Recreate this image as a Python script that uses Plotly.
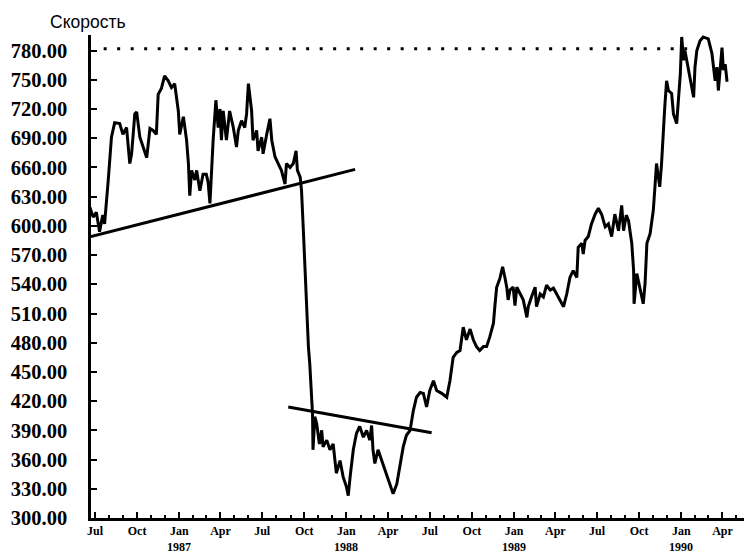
import plotly.graph_objects as go

# Index readings (date, level)
dates = [
    "1986-06-20", "1986-06-27", "1986-07-04", "1986-07-11", "1986-07-18", "1986-07-22",
    "1986-07-30", "1986-08-06", "1986-08-13", "1986-08-24", "1986-08-31", "1986-09-08",
    "1986-09-15", "1986-09-19", "1986-09-26", "1986-09-30", "1986-10-07", "1986-10-14",
    "1986-10-22", "1986-10-29", "1986-11-05", "1986-11-12", "1986-11-16", "1986-11-23",
    "1986-11-30", "1986-12-08", "1986-12-15", "1986-12-22", "1986-12-30", "1987-01-02",
    "1987-01-10", "1987-01-17", "1987-01-21", "1987-01-24", "1987-01-28", "1987-02-04",
    "1987-02-08", "1987-02-15", "1987-02-22", "1987-03-01", "1987-03-05", "1987-03-09",
    "1987-03-12", "1987-03-16", "1987-03-22", "1987-03-27", "1987-03-31", "1987-04-03",
    "1987-04-07", "1987-04-14", "1987-04-21", "1987-04-29", "1987-05-06", "1987-05-10",
    "1987-05-17", "1987-05-24", "1987-05-28", "1987-06-01", "1987-06-08", "1987-06-11",
    "1987-06-19", "1987-06-22", "1987-06-30", "1987-07-03", "1987-07-11", "1987-07-18",
    "1987-07-22", "1987-07-29", "1987-08-05", "1987-08-12", "1987-08-20", "1987-08-23",
    "1987-08-31", "1987-09-07", "1987-09-13", "1987-09-16", "1987-09-22", "1987-09-25",
    "1987-09-29", "1987-10-02", "1987-10-06", "1987-10-10", "1987-10-13", "1987-10-17",
    "1987-10-19", "1987-10-20", "1987-10-24", "1987-10-28", "1987-11-03", "1987-11-08",
    "1987-11-11", "1987-11-19", "1987-11-26", "1987-12-03", "1987-12-10", "1987-12-18",
    "1987-12-25", "1988-01-01", "1988-01-05", "1988-01-09", "1988-01-16", "1988-01-23",
    "1988-01-30", "1988-02-07", "1988-02-14", "1988-02-21", "1988-02-25", "1988-02-28",
    "1988-03-03", "1988-03-10", "1988-03-18", "1988-03-25", "1988-04-01", "1988-04-09",
    "1988-04-12", "1988-04-20", "1988-04-27", "1988-05-04", "1988-05-11", "1988-05-19",
    "1988-05-26", "1988-06-02", "1988-06-10", "1988-06-17", "1988-06-24", "1988-07-01",
    "1988-07-09", "1988-07-16", "1988-07-27", "1988-08-07", "1988-08-14", "1988-08-21",
    "1988-08-29", "1988-09-05", "1988-09-12", "1988-09-19", "1988-09-27", "1988-10-04",
    "1988-10-11", "1988-10-18", "1988-10-26", "1988-11-02", "1988-11-09", "1988-11-17",
    "1988-11-20", "1988-11-24", "1988-12-01", "1988-12-07", "1988-12-12", "1988-12-16",
    "1988-12-19", "1988-12-23", "1988-12-30", "1989-01-03", "1989-01-07", "1989-01-14",
    "1989-01-21", "1989-01-29", "1989-02-01", "1989-02-08", "1989-02-16", "1989-02-19",
    "1989-02-27", "1989-03-06", "1989-03-13", "1989-03-21", "1989-03-28", "1989-04-04",
    "1989-04-11", "1989-04-19", "1989-04-26", "1989-05-03", "1989-05-10", "1989-05-18",
    "1989-05-21", "1989-05-29", "1989-06-01", "1989-06-05", "1989-06-12", "1989-06-19",
    "1989-06-27", "1989-07-04", "1989-07-11", "1989-07-19", "1989-07-26", "1989-08-02",
    "1989-08-09", "1989-08-17", "1989-08-24", "1989-08-28", "1989-09-03", "1989-09-08",
    "1989-09-11", "1989-09-15", "1989-09-19", "1989-09-20", "1989-09-26", "1989-10-03",
    "1989-10-10", "1989-10-14", "1989-10-18", "1989-10-25", "1989-11-01", "1989-11-05",
    "1989-11-08", "1989-11-12", "1989-11-15", "1989-11-19", "1989-11-23", "1989-11-26",
    "1989-11-30", "1989-12-04", "1989-12-11", "1989-12-15", "1989-12-22", "1989-12-30",
    "1990-01-02", "1990-01-06", "1990-01-09", "1990-01-17", "1990-01-24", "1990-01-28",
    "1990-01-31", "1990-02-04", "1990-02-11", "1990-02-18", "1990-03-01", "1990-03-09",
    "1990-03-16", "1990-03-20", "1990-03-23", "1990-03-31", "1990-04-03", "1990-04-07",
    "1990-04-11",
]
levels = [
    619, 609, 614, 594, 611, 602,
    647, 691, 706, 705, 694, 701,
    664, 674, 715, 717, 691, 681,
    670, 700, 698, 694, 735, 741,
    754, 749, 742, 746, 718, 694,
    712, 688, 664, 631, 657, 647,
    657, 636, 653, 653, 645, 623,
    657, 688, 729, 701, 720, 688,
    718, 688, 718, 701, 681, 698,
    708, 701, 715, 746, 718, 688,
    698, 677, 691, 674, 694, 710,
    688, 671, 664, 657, 643, 664,
    660, 664, 677, 657, 650, 636,
    595, 561, 510, 476, 458, 424,
    407, 370, 404, 397, 376, 390,
    373, 380, 370, 376, 346, 359,
    342, 332, 323, 342, 370, 387,
    394, 383, 390, 380, 395, 370,
    356, 370, 359, 349, 339, 329,
    325, 335, 353, 373, 385, 390,
    410, 424, 429, 428, 414, 431,
    441, 431, 428, 424, 441, 465,
    470, 472, 496, 483, 494, 483,
    476, 472, 476, 476, 486, 500,
    517, 537, 546, 558, 547, 537,
    524, 534, 537, 518, 537, 530,
    524, 506, 517, 527, 537, 517,
    530, 527, 539, 534, 536, 530,
    524, 517, 530, 547, 554, 547,
    578, 582, 571, 585, 589, 602,
    612, 618, 612, 599, 602, 589,
    612, 595, 621, 595, 611, 605,
    595, 582, 554, 520, 551, 534,
    520, 541, 582, 592, 616, 643,
    664, 650, 640, 664, 691, 722,
    749, 739, 736, 715, 705, 756,
    794, 770, 780, 760, 739, 732,
    763, 780, 790, 794, 792, 777,
    749, 763, 739, 783, 760, 766,
    748,
]

# Trend lines and resistance level
support_dates = ["1986-06-22", "1988-01-20"]
support_levels = [589, 658]
neckline_dates = ["1987-08-27", "1988-07-05"]
neckline_levels = [414, 387.5]
high_dates = ["1986-07-20", "1990-01-30"]
high_levels = [782, 782]

# Axis ticks
quarter_ticks = [
    "1986-07-01", "1986-10-01", "1987-01-01", "1987-04-01", "1987-07-01", "1987-10-01",
    "1988-01-01", "1988-04-01", "1988-07-01", "1988-10-01", "1989-01-01", "1989-04-01",
    "1989-07-01", "1989-10-01", "1990-01-01", "1990-04-01",
]
quarter_labels = ["Jul", "Oct", "Jan", "Apr"] * 4
year_ticks = ["1987-01-01", "1988-01-01", "1989-01-01", "1990-01-01"]
year_labels = ["1987", "1988", "1989", "1990"]
y_ticks = list(range(300, 781, 30))

serif = "Liberation Serif"

fig = go.Figure()
fig.add_trace(go.Scatter(x=dates, y=levels, mode="lines",
                         line=dict(color="black", width=3), hoverinfo="skip"))
fig.add_trace(go.Scatter(x=support_dates, y=support_levels, mode="lines",
                         line=dict(color="black", width=3), hoverinfo="skip"))
fig.add_trace(go.Scatter(x=neckline_dates, y=neckline_levels, mode="lines",
                         line=dict(color="black", width=3), hoverinfo="skip"))
fig.add_trace(go.Scatter(x=high_dates, y=high_levels, mode="lines",
                         line=dict(color="black", width=3, dash="3px,10.5px"),
                         hoverinfo="skip"))

for d, t in zip(year_ticks, year_labels):
    fig.add_annotation(x=d, y=0, xref="x", yref="paper", text=t, showarrow=False,
                       yanchor="middle", xanchor="center", yshift=-29,
                       font=dict(family=serif, size=12, color="black", weight="bold"))

fig.add_annotation(x=-0.066, y=1.027, xref="paper", yref="paper", text="Скорость",
                   showarrow=False, xanchor="left", yanchor="middle",
                   font=dict(family="Liberation Sans", size=17.5, color="black"))

fig.update_layout(
    width=744, height=553,
    margin=dict(l=91, r=0, t=35, b=35),
    paper_bgcolor="white", plot_bgcolor="white",
    showlegend=False,
    xaxis=dict(
        type="date", range=["1986-06-22 08:00", "1990-05-18"],
        tickmode="array", tickvals=quarter_ticks, ticktext=quarter_labels,
        ticks="inside", ticklen=6, tickwidth=2, tickcolor="black",
        minor=dict(ticks="inside", ticklen=3, tickwidth=1.5, tickcolor="black",
                   dtick="M1", tick0="1986-07-01"),
        showline=True, linecolor="black", linewidth=2.5,
        showgrid=False, zeroline=False,
        tickfont=dict(family=serif, size=12, color="black", weight="bold"),
    ),
    yaxis=dict(
        range=[300, 796],
        tickmode="array", tickvals=y_ticks, tickformat=".2f",
        ticks="inside", ticklen=6, tickwidth=2, tickcolor="black",
        showline=True, linecolor="black", linewidth=2.5,
        showgrid=False, zeroline=False, ticklabelstandoff=17,
        tickfont=dict(family=serif, size=20.5, color="black", weight="bold"),
    ),
)

fig.write_html("out.html")
